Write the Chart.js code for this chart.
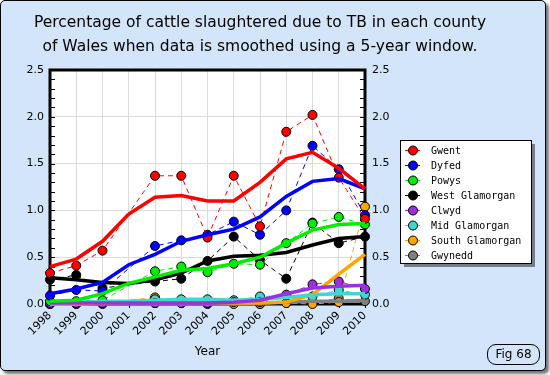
<!DOCTYPE html>
<html>
<head>
<meta charset="utf-8">
<script src="https://cdn.jsdelivr.net/npm/chart.js@4.4.0/dist/chart.umd.min.js"></script>
<style>
body { margin: 0; background: #fff; }
#wrap { position: absolute; left: 0; top: 0; width: 544px; height: 369px; border: 1px solid #000; border-radius: 5px; background: #d2e5fa; box-shadow: 3px 3px 3px rgba(0,0,0,0.55); }
#fig { position: absolute; left: 486px; top: 343px; width: 51px; height: 19px; border: 1px solid #000; border-radius: 9px; font: 12px 'DejaVu Sans'; text-align: center; line-height: 19px; color: #000; }
</style>
</head>
<body>
<div id="wrap">
  <canvas id="chart" width="544" height="369"></canvas>
  <div id="fig">Fig 68</div>
</div>
<script>
var titleLines = ['Percentage of cattle slaughtered due to TB in each county', 'of Wales when data is smoothed using a 5-year window.'];
var years = ['1998', '1999', '2000', '2001', '2002', '2003', '2004', '2005', '2006', '2007', '2008', '2009', '2010'];
var yTicks = [0, 0.5, 1.0, 1.5, 2.0, 2.5];

// raw yearly values (no data for 2001)
var gwentRaw     = [0.33, 0.41, 0.57, null, 1.37, 1.37, 0.71, 1.37, 0.83, 1.84, 2.02, 1.35, 0.91];
var dyfedRaw     = [0.09, 0.15, 0.14, null, 0.62, 0.68, 0.74, 0.88, 0.74, 1.00, 1.69, 1.44, 0.95];
var powysRaw     = [0.03, 0.03, 0.04, null, 0.35, 0.40, 0.34, 0.43, 0.42, 0.65, 0.86, 0.93, 0.85];
var westGlamRaw  = [0.26, 0.31, 0.17, null, 0.24, 0.27, 0.46, 0.72, 0.47, 0.27, 0.87, 0.65, 0.72];
var clwydRaw     = [0.01, 0.01, 0.01, null, 0.01, 0.01, 0.01, 0.02, 0.02, 0.10, 0.21, 0.24, 0.16];
var midGlamRaw   = [0.00, 0.01, 0.02, null, 0.05, 0.05, 0.05, 0.04, 0.08, 0.09, 0.08, 0.15, 0.10];
var southGlamRaw = [0.00, 0.00, 0.01, null, 0.07, 0.01, 0.01, 0.00, 0.00, 0.01, 0.00, 0.02, 1.04];
var gwyneddRaw   = [0.00, 0.00, 0.00, null, 0.01, 0.01, 0.00, 0.01, 0.00, 0.01, 0.02, 0.06, 0.03];

// 5-year window smoothed values
var gwentSmooth     = [0.40, 0.48, 0.67, 0.96, 1.14, 1.16, 1.10, 1.10, 1.30, 1.55, 1.62, 1.45, 1.23];
var dyfedSmooth     = [0.11, 0.16, 0.23, 0.42, 0.53, 0.67, 0.74, 0.80, 0.93, 1.15, 1.31, 1.34, 1.23];
var powysSmooth     = [0.03, 0.04, 0.11, 0.22, 0.29, 0.36, 0.38, 0.43, 0.50, 0.65, 0.79, 0.85, 0.86];
var westGlamSmooth  = [0.28, 0.26, 0.23, 0.22, 0.26, 0.33, 0.46, 0.51, 0.52, 0.55, 0.63, 0.70, 0.72];
var clwydSmooth     = [0.01, 0.01, 0.01, 0.01, 0.01, 0.01, 0.01, 0.02, 0.04, 0.11, 0.17, 0.19, 0.20];
var midGlamSmooth   = [0.01, 0.02, 0.03, 0.03, 0.04, 0.05, 0.05, 0.04, 0.05, 0.07, 0.10, 0.11, 0.11];
var southGlamSmooth = [0.00, 0.00, 0.01, 0.02, 0.02, 0.02, 0.02, 0.01, 0.01, 0.02, 0.10, 0.32, 0.53];
var gwyneddSmooth   = [0.00, 0.00, 0.00, 0.00, 0.00, 0.00, 0.00, 0.00, 0.01, 0.02, 0.03, 0.03, 0.04];

var counties = ['Gwent', 'Dyfed', 'Powys', 'West Glamorgan', 'Clwyd', 'Mid Glamorgan', 'South Glamorgan', 'Gwynedd'];
var colours = ['#ff0000', '#0000ff', '#00ee00', '#000000', '#9b30e0', '#40d8cc', '#ffa500', '#808080'];
var rawSeries = [gwentRaw, dyfedRaw, powysRaw, westGlamRaw, clwydRaw, midGlamRaw, southGlamRaw, gwyneddRaw];
var smoothSeries = [gwentSmooth, dyfedSmooth, powysSmooth, westGlamSmooth, clwydSmooth, midGlamSmooth, southGlamSmooth, gwyneddSmooth];

var datasets = [];
counties.forEach(function (name, i) {
    datasets.push({
        label: name + ' (smoothed)',
        data: smoothSeries[i],
        borderColor: colours[i],
        backgroundColor: colours[i],
        borderWidth: 3.5,
        pointRadius: 0,
        tension: 0,
        fill: false,
        clip: false,
        isSmooth: true
    });
});
counties.forEach(function (name, i) {
    datasets.push({
        label: name,
        data: rawSeries[i],
        borderColor: colours[i],
        backgroundColor: colours[i],
        borderWidth: 1,
        borderDash: [5, 4],
        pointRadius: 4.5,
        pointBackgroundColor: colours[i],
        pointBorderColor: '#000',
        pointBorderWidth: 1,
        spanGaps: true,
        tension: 0,
        fill: false,
        clip: false
    });
});

var plotFrame = {
    id: 'plotFrame',
    beforeDraw: function (chart) {
        var a = chart.chartArea, ctx = chart.ctx;
        ctx.save();
        ctx.fillStyle = '#fff';
        ctx.fillRect(a.left, a.top, a.right - a.left, a.bottom - a.top);
        ctx.restore();
    },
    beforeDatasetsDraw: function (chart) {
        var a = chart.chartArea, ctx = chart.ctx;
        var y = chart.scales.y, x = chart.scales.x;
        ctx.save();
        ctx.strokeStyle = '#000';
        ctx.lineWidth = 1;
        ctx.beginPath();
        // minor ticks on both vertical axes, pointing inward
        for (var v = 0; v <= 25; v++) {
            var py = Math.round(y.getPixelForValue(v / 10)) + 0.5;
            ctx.moveTo(a.left, py); ctx.lineTo(a.left + 5, py);
            ctx.moveTo(a.right - 5, py); ctx.lineTo(a.right, py);
        }
        // year ticks crossing the bottom axis
        for (var i = 0; i < years.length; i++) {
            var px = Math.round(x.getPixelForValue(i)) + 0.5;
            ctx.moveTo(px, a.bottom - 4); ctx.lineTo(px, a.bottom + 4);
        }
        ctx.stroke();
        ctx.lineWidth = 3;
        ctx.strokeRect(a.left, a.top, a.right - a.left, a.bottom - a.top);
        ctx.restore();
    }
};

var boxLegend = {
    id: 'boxLegend',
    afterDraw: function (chart) {
        var ctx = chart.ctx;
        var bx = 399, by = 139, bw = 131, bh = 123;
        ctx.save();
        ctx.fillStyle = 'rgba(0,0,0,0.45)';
        ctx.fillRect(bx + 4, by + 4, bw, bh);
        ctx.fillStyle = '#fff';
        ctx.fillRect(bx, by, bw, bh);
        ctx.strokeStyle = '#000';
        ctx.lineWidth = 1;
        ctx.strokeRect(bx + 0.5, by + 0.5, bw, bh);
        ctx.font = '10px "DejaVu Sans Mono"';
        ctx.textBaseline = 'middle';
        chart.data.datasets.forEach(function (ds) {
            if (ds.isSmooth) return;
            var k = counties.indexOf(ds.label);
            var ry = by + 10.5 + k * 15;
            ctx.strokeStyle = ds.borderColor;
            ctx.beginPath();
            ctx.moveTo(bx + 5, ry); ctx.lineTo(bx + 20, ry);
            ctx.stroke();
            ctx.beginPath();
            ctx.arc(bx + 13, ry, 4.5, 0, Math.PI * 2);
            ctx.fillStyle = ds.pointBackgroundColor;
            ctx.fill();
            ctx.strokeStyle = '#000';
            ctx.stroke();
            ctx.fillStyle = '#000';
            ctx.fillText(ds.label, bx + 31, ry + 0.5);
        });
        ctx.restore();
    }
};

var tickFont = { family: 'DejaVu Sans', size: 11 };

var chart = new Chart(
    document.getElementById('chart'),
    {
        type: 'line',
        data: {
            labels: years,
            datasets: datasets
        },
        options: {
            responsive: false,
            animation: false,
            layout: {
                // right padding only centres the heading; the legend box is drawn by boxLegend
                padding: { left: 0, right: 26, top: 0, bottom: 0 }
            },
            plugins: {
                legend: { display: false },
                tooltip: { enabled: false },
                title: {
                    display: true,
                    text: titleLines,
                    color: '#000',
                    font: { family: 'DejaVu Sans', size: 15.5, weight: 'normal', lineHeight: 24 / 15.5 },
                    padding: { top: 10, bottom: 11 }
                }
            },
            scales: {
                x: {
                    grid: { color: '#dcdcdc', drawTicks: false },
                    border: { display: false },
                    ticks: {
                        color: '#000',
                        font: tickFont,
                        minRotation: 45,
                        maxRotation: 45,
                        padding: 5,
                        autoSkip: false
                    },
                    title: {
                        display: true,
                        text: 'Year',
                        color: '#000',
                        font: { family: 'DejaVu Sans', size: 12 },
                        padding: { top: 0, bottom: 11 }
                    },
                    afterFit: function (s) { s.height = 66; }
                },
                y: {
                    position: 'left',
                    min: 0,
                    max: 2.5,
                    grid: { color: '#dcdcdc', drawTicks: false },
                    border: { display: false },
                    afterBuildTicks: function (s) { s.ticks = yTicks.map(function (v) { return { value: v }; }); },
                    ticks: {
                        color: '#000',
                        font: tickFont,
                        padding: 6,
                        callback: function (v) { return Number(v).toFixed(1); }
                    },
                    afterFit: function (s) { s.width = 49; }
                },
                y2: {
                    position: 'right',
                    min: 0,
                    max: 2.5,
                    grid: { display: false, drawTicks: false },
                    border: { display: false },
                    afterBuildTicks: function (s) { s.ticks = yTicks.map(function (v) { return { value: v }; }); },
                    ticks: {
                        color: '#000',
                        font: tickFont,
                        padding: 7,
                        callback: function (v) { return Number(v).toFixed(1); }
                    },
                    afterFit: function (s) { s.width = 154; }
                }
            }
        },
        plugins: [plotFrame, boxLegend]
    }
);
</script>
</body>
</html>
